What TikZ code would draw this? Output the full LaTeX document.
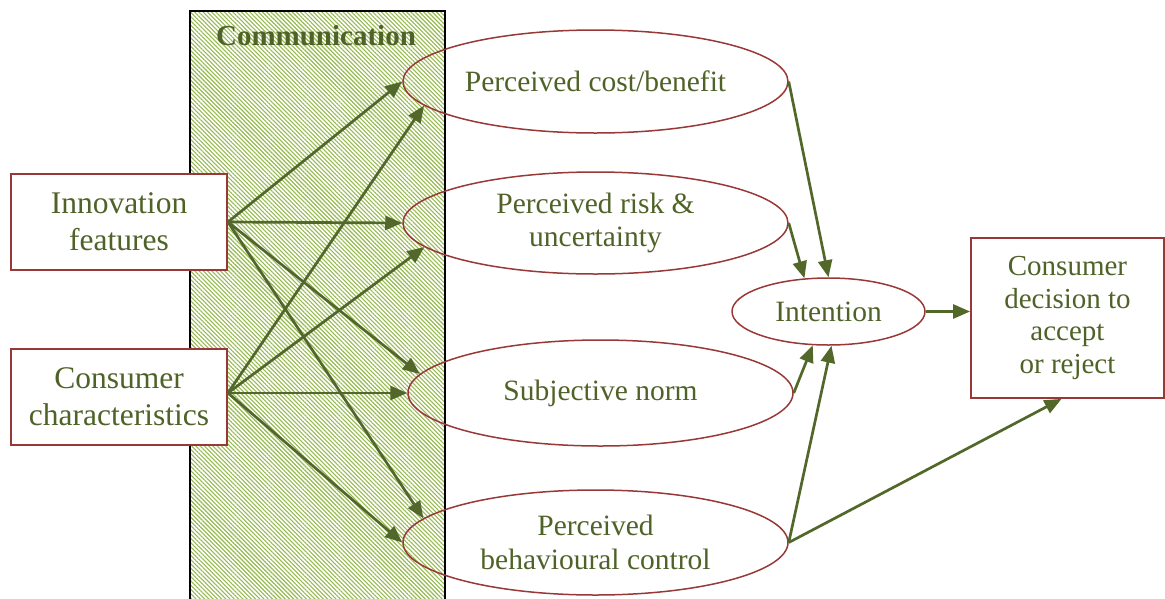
\documentclass[tikz,border=0pt]{standalone}
\usepackage{fontspec}
\setmainfont{Liberation Serif}
\usetikzlibrary{shapes.geometric,arrows.meta,patterns.meta}

\definecolor{textgreen}{RGB}{79,98,40}
\definecolor{arrowgreen}{RGB}{82,104,42}
\definecolor{borderred}{RGB}{152,57,55}
\definecolor{hatchgreen}{RGB}{150,185,80}

\tikzset{
  factorbox/.style={draw=borderred, line width=1.8pt, fill=white, rectangle,
    inner sep=0pt, align=center, text=textgreen,
    font=\fontsize{31.5}{37}\selectfont},
  decisionbox/.style={draw=borderred, line width=1.8pt, fill=white, rectangle,
    inner sep=0pt, align=center, text=textgreen,
    font=\fontsize{29}{32.5}\selectfont},
  percept/.style={draw=borderred, line width=1.5pt, ellipse, inner sep=0pt,
    align=center, text=textgreen, font=\fontsize{29.5}{33.5}\selectfont},
  link/.style={draw=arrowgreen, line width=2.7pt,
    -{Triangle[length=17pt,width=14pt]}},
}

\begin{document}
\begin{tikzpicture}[x=1pt,y=-1pt]
  \clip (0,0) rectangle (1165,598);

  % communication band
  \path[fill=white] (190,11) rectangle (445,620);
  \path[pattern={Lines[angle=-45,distance=3pt,line width=1.1pt]},
        pattern color=hatchgreen] (190,11) rectangle (445,620);
  \draw[black, line width=1.8pt] (190,620) -- (190,11) -- (445,11) -- (445,620);
  \node[anchor=base, text=textgreen, font=\fontsize{29}{32}\selectfont\bfseries]
    (comm) at (316,45) {Communication};

  % antecedents
  \node[factorbox, minimum width=216pt, minimum height=96pt]
    (feat) at (119,222) {Innovation\\features};
  \node[factorbox, minimum width=216pt, minimum height=96pt]
    (chars) at (119,397) {Consumer\\characteristics};

  % perceptions
  \node[percept, minimum width=385pt, minimum height=103pt]
    (cost) at (595.5,81.5) {Perceived cost/benefit};
  \node[percept, minimum width=385pt, minimum height=102pt]
    (risk) at (595.5,223) {Perceived risk \&\\uncertainty};
  \node[percept, minimum width=385pt, minimum height=106pt]
    (norm) at (600.5,393) {Subjective norm};
  \node[percept, minimum width=385pt, minimum height=105pt]
    (control) at (595.5,542.5) {Perceived\\behavioural control};

  % intention and outcome
  \node[percept, minimum width=193pt, minimum height=67pt]
    (intent) at (828.5,311.5) {Intention};
  \node[decisionbox, minimum width=193pt, minimum height=160pt]
    (decide) at (1067.5,318) {Consumer\\decision to\\accept\\or reject};

  % innovation features to perceptions
  \draw[link] (feat.east) -- (cost.west);
  \draw[link] (feat.east) -- (risk.west);
  \draw[link] (feat.east) -- (norm.174);
  \draw[link] (feat.east) -- (control.172);

  % consumer characteristics to perceptions
  \draw[link] ([yshift=4pt]chars.east) -- (cost.188);
  \draw[link] ([yshift=4pt]chars.east) -- (risk.188);
  \draw[link] ([yshift=4pt]chars.east) -- (norm.west);
  \draw[link] ([yshift=4pt]chars.east) -- (control.west);

  % perceptions to intention
  \draw[link] (cost.east) -- (intent.north);
  \draw[link] (risk.east) -- (intent.126);
  \draw[link] (norm.east) -- (intent.245);
  \draw[link] (control.east) -- (intent.275);

  % to decision
  \draw[link] (intent.east) -- (intent.east -| decide.west);
  \draw[link] (control.east) -- ([xshift=-6pt]decide.south);
\end{tikzpicture}
\end{document}
